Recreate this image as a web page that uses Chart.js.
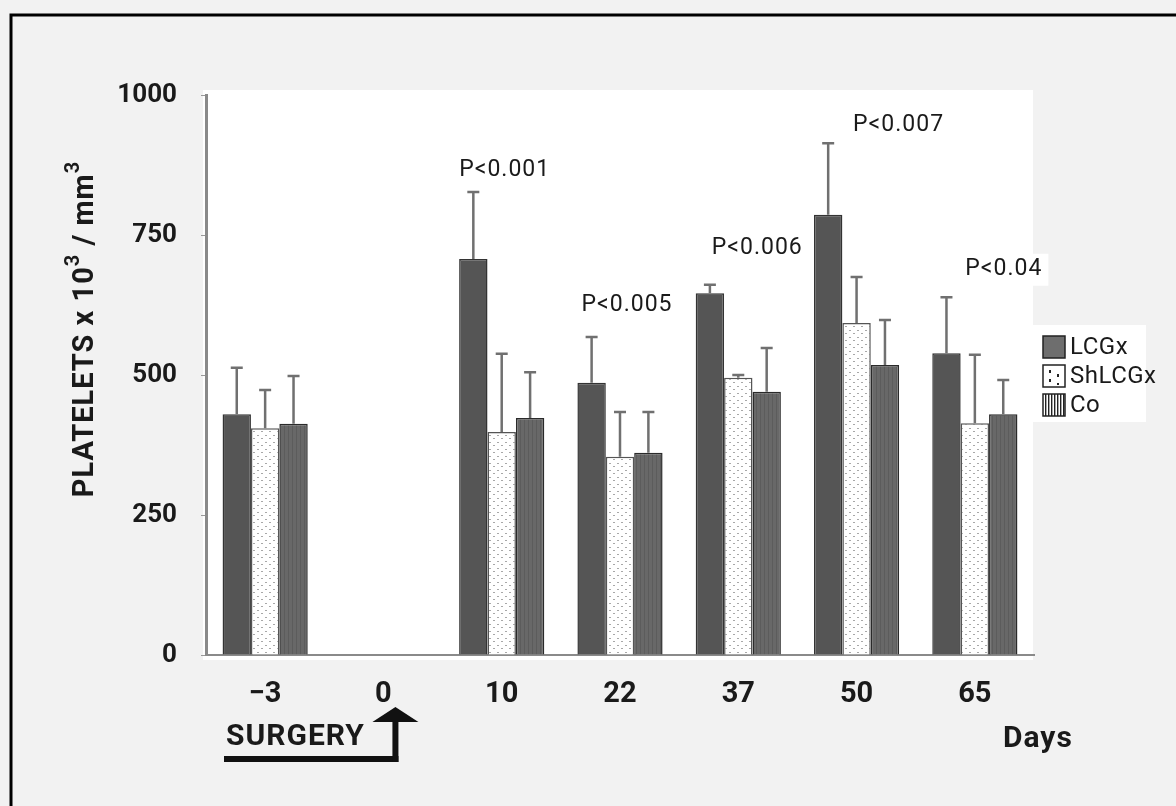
<!DOCTYPE html>
<html>
<head>
<meta charset="utf-8">
<title>Platelets</title>
<style>
  html, body { margin: 0; padding: 0; background: #f2f2f2; }
  #wrap { width: 1176px; height: 806px; position: relative; }
</style>
<script src="https://cdn.jsdelivr.net/npm/chart.js@4.4.0/dist/chart.umd.min.js"></script>
</head>
<body>
<div id="wrap"><canvas id="chart" width="1176" height="806"></canvas></div>
<script>
// data
const days = ["\u22123", "0", "10", "22", "37", "50", "65"];
const lcgx = [430, null, 707, 486, 646, 786, 539];
const lcgxErr = [83, null, 120, 82, 15, 128, 100];
const shlcgx = [405, null, 398, 354, 495, 593, 414];
const shlcgxErr = [68, null, 140, 80, 5, 82, 122];
const co = [413, null, 423, 361, 470, 518, 430];
const coErr = [85, null, 82, 73, 78, 80, 61];
const yTicks = [0, 250, 500, 750, 1000];
// p-value annotations (text + level on the y scale)
const pTexts = ["", "", "P<0.001", "P<0.005", "P<0.006", "P<0.007", "P<0.04"];
const pLevels = [null, null, 866, 625, 727, 946, 688];

// nudge of each p label from its category center, px
const pShift = [0, 0, 3, 7, 19, 42, 29];

const ctx = document.getElementById("chart").getContext("2d");

//dotted pattern for ShLCGx
function dotPattern() {
  const c = document.createElement("canvas");
  c.width = 8; c.height = 7;
  const g = c.getContext("2d");
  g.fillStyle = "#ffffff";
  g.fillRect(0, 0, 8, 7);
  g.fillStyle = "#a8a8a8";
  g.fillRect(1, 1, 2, 1);
  g.fillRect(5, 4, 2, 1);
  return ctx.createPattern(c, "repeat");
}
//faint stripes for Co
function stripePattern() {
  const c = document.createElement("canvas");
  c.width = 4; c.height = 4;
  const g = c.getContext("2d");
  g.fillStyle = "#686868";
  g.fillRect(0, 0, 4, 4);
  g.fillStyle = "#5c5c5c";
  g.fillRect(0, 0, 1, 4);
  return ctx.createPattern(c, "repeat");
}

const errs = [lcgxErr, shlcgxErr, coErr];

//error bars above each bar
const errorBars = {
  id: "errorBars",
  afterDatasetsDraw(chart) {
    const c = chart.ctx;
    const y = chart.scales.y;
    c.save();
    c.strokeStyle = "#707070";
    c.lineWidth = 2.5;
    chart.data.datasets.forEach((ds, i) => {
      const meta = chart.getDatasetMeta(i);
      meta.data.forEach((bar, j) => {
        const v = ds.data[j];
        if (v == null) return;
        const top = y.getPixelForValue(v + errs[i][j]);
        c.beginPath();
        c.moveTo(bar.x, bar.y);
        c.lineTo(bar.x, top);
        c.moveTo(bar.x - 6, top);
        c.lineTo(bar.x + 6, top);
        c.stroke();
      });
    });
    c.restore();
  }
};

//background, frame, titles, legend, p-values, surgery arrow
const decor = {
  id: "decor",
  beforeDraw(chart) {
    const c = chart.ctx;
    const a = chart.chartArea;
    c.save();
    c.fillStyle = "#f2f2f2";
    c.fillRect(0, 0, chart.width, chart.height);
    c.fillStyle = "#ffffff";
    c.fillRect(a.left - 3, a.top - 5, a.right - a.left + 2, a.bottom - a.top + 10);
    c.strokeStyle = "#000";
    c.lineWidth = 3;
    c.beginPath();
    c.moveTo(11, chart.height);
    c.lineTo(11, 15);
    c.lineTo(chart.width, 15);
    c.stroke();
    c.restore();
  },
  afterDraw(chart) {
    const c = chart.ctx;
    const x = chart.scales.x;
    const y = chart.scales.y;
    c.save();

    // y title with superscripts
    c.translate(77, 329);
    c.rotate(-Math.PI / 2);
    c.letterSpacing = "1px";
    const parts = [["PLATELETS x 10", 29, 0], ["3", 20, -12], [" / mm", 29, 0], ["3", 20, -12]];
    let w = 0;
    parts.forEach(p => { c.font = "bold " + p[1] + "px Roboto"; w += c.measureText(p[0]).width; });
    let px = -w / 2;
    c.fillStyle = "#1a1a1a";
    c.textBaseline = "middle";
    parts.forEach(p => {
      c.font = "bold " + p[1] + "px Roboto";
      c.fillText(p[0], px, 9 + p[2]);
      px += c.measureText(p[0]).width;
    });
    c.setTransform(1, 0, 0, 1, 0, 0);

    // p-values
    c.font = "23px Roboto";
    c.letterSpacing = "1px";
    c.textAlign = "center";
    c.textBaseline = "middle";
    pTexts.forEach((t, i) => {
      if (!t) return;
      const cx = x.getPixelForValue(i) + pShift[i];
      const cy = y.getPixelForValue(pLevels[i]);
      const tw = c.measureText(t).width;
      c.fillStyle = "#ffffff";
      c.fillRect(cx - tw / 2 - 6, cy - 16, tw + 12, 32);
      c.fillStyle = "#1a1a1a";
      c.fillText(t, cx, cy);
    });

    // legend
    const lx = 1031, ly = 325;
    c.fillStyle = "#ffffff";
    c.fillRect(lx, ly, 115, 97);
    const names = ["LCGx", "ShLCGx", "Co"];
    c.font = "24px Roboto";
    c.letterSpacing = "0.5px";
    c.textAlign = "left";
    names.forEach((n, i) => {
      const sy = ly + 11 + i * 29;
      const sx = lx + 12;
      if (i === 0) {
        c.fillStyle = "#6e6e6e";
        c.fillRect(sx, sy, 22, 22);
      } else if (i === 1) {
        c.fillStyle = "#fff";
        c.fillRect(sx, sy, 22, 22);
        c.fillStyle = "#222";
        c.fillRect(sx + 6, sy + 5, 2, 3);
        c.fillRect(sx + 6, sy + 14, 2, 3);
        c.fillRect(sx + 14, sy + 9, 2, 3);
        c.fillRect(sx + 14, sy + 18, 2, 2);
      } else {
        c.fillStyle = "#fff";
        c.fillRect(sx, sy, 22, 22);
        c.fillStyle = "#222";
        for (let k = 2; k < 22; k += 3) c.fillRect(sx + k, sy, 1.4, 22);
      }
      c.strokeStyle = "#222";
      c.lineWidth = 1.5;
      c.strokeRect(sx, sy, 22, 22);
      c.fillStyle = "#1a1a1a";
      c.fillText(n, sx + 27, sy + 12);
    });

    // surgery arrow under day 0
    const ax = x.getPixelForValue(1) + 12;
    c.fillStyle = "#111";
    c.fillRect(224, 756, ax - 224 + 3, 6);
    c.fillRect(ax - 3, 720, 6, 42);
    c.beginPath();
    c.moveTo(ax - 23, 722);
    c.lineTo(ax, 707);
    c.lineTo(ax + 23, 722);
    c.closePath();
    c.fill();

    c.font = "bold 30px Roboto";
    c.letterSpacing = "1px";
    c.textBaseline = "alphabetic";
    c.fillStyle = "#1a1a1a";
    c.fillText("SURGERY", 226, 745);
    c.fillText("Days", 1003, 747);
    c.restore();
  }
};

new Chart(ctx, {
  type: "bar",
  plugins: [decor, errorBars],
  data: {
    labels: days,
    datasets: [
      { label: "LCGx", data: lcgx, backgroundColor: "#555555", borderColor: "#333333", borderWidth: 1.5 },
      { label: "ShLCGx", data: shlcgx, backgroundColor: dotPattern(), borderColor: "#555555", borderWidth: 1.5 },
      { label: "Co", data: co, backgroundColor: stripePattern(), borderColor: "#2a2a2a", borderWidth: 1.5 }
    ]
  },
  options: {
    responsive: false,
    animation: false,
    layout: { padding: { top: 95, right: 142, bottom: 0, left: 0 } },
    datasets: { bar: { categoryPercentage: 0.72, barPercentage: 1.0, borderSkipped: "bottom" } },
    plugins: {
      legend: { display: false },
      tooltip: { enabled: false }
    },
    scales: {
      x: {
        afterFit: (s) => { s.height = 151; },
        grid: { display: false },
        border: { display: true, color: "#8a8a8a", width: 2 },
        ticks: { color: "#1a1a1a", font: { family: "Roboto", size: 29, weight: "bold" }, padding: 14 }
      },
      y: {
        min: 0,
        max: 1000,
        afterFit: (s) => { s.width = 206; },
        afterBuildTicks: (s) => { s.ticks = yTicks.map(v => ({ value: v })); },
        grid: { drawOnChartArea: false, drawTicks: true, tickLength: 5, color: "#999" },
        border: { display: true, color: "#8a8a8a", width: 3 },
        ticks: {
          color: "#1a1a1a",
          font: { family: "Roboto", size: 26, weight: "bold" },
          padding: 24,
          callback: (v) => String(v)
        }
      }
    }
  }
});
</script>
</body>
</html>
